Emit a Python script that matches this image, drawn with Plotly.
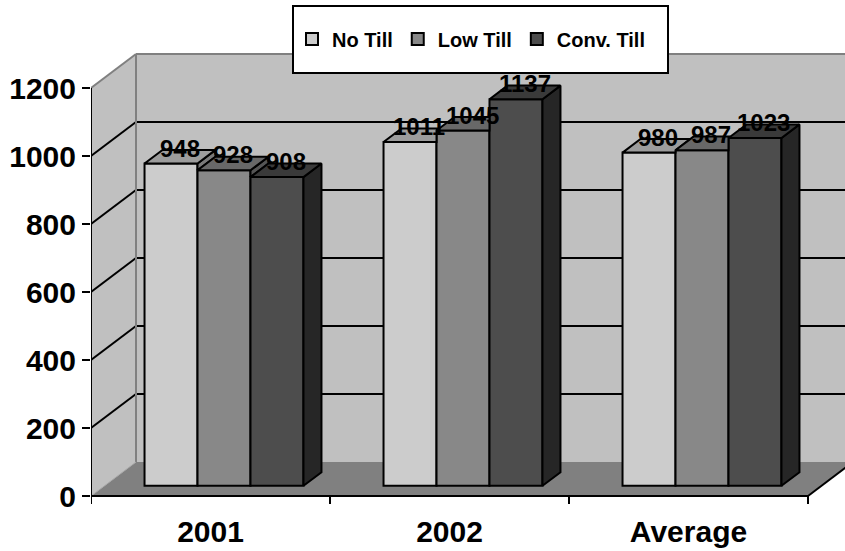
import plotly.graph_objects as go

# ---- data -------------------------------------------------------------
categories = ["2001", "2002", "Average"]
no_till = [948, 1011, 980]
low_till = [928, 1045, 987]
conv_till = [908, 1137, 1023]
series_names = ["No Till", "Low Till", "Conv. Till"]
y_ticks = [0, 200, 400, 600, 800, 1000, 1200]

# ---- styling ----------------------------------------------------------
front_colors = ["#cccccc", "#888888", "#4d4d4d"]
top_colors = ["#9c9c9c", "#686868", "#3a3a3a"]
side_colors = ["#7a7a7a", "#555555", "#262626"]
wall_color = "#c0c0c0"
floor_color = "#808080"
edge_gray = "#808080"
FONT = "Arial, 'Liberation Sans', sans-serif"

# ---- pseudo-3D geometry (oblique projection) --------------------------
W, H = 845, 551
M_L, M_R, M_T, M_B = 91, 0, 40, 45
PX_PER_CAT = 239.0          # one category slot on the front plane
PX_PER_VAL = 0.34           # pixels per value unit
plot_w = W - M_L - M_R
plot_h = H - M_T - M_B
x_range = [-0.5, -0.5 + plot_w / PX_PER_CAT]
y_bottom = -10 / PX_PER_VAL
y_range = [y_bottom, y_bottom + plot_h / PX_PER_VAL]

# full depth of the chart box, expressed in axis units
DEPTH_X = 45 / PX_PER_CAT
DEPTH_Y = 34 / PX_PER_VAL
# bars sit 30% into the box and are 40% of the box deep
BAR_OFF_X, BAR_OFF_Y = 0.3 * DEPTH_X, 0.3 * DEPTH_Y
BAR_DX, BAR_DY = 0.4 * DEPTH_X, 0.4 * DEPTH_Y

BARGAP = 0.335
n_series = 3
bar_w = (1 - BARGAP) / n_series
n_cat = len(categories)
x_left, x_right = -0.5, n_cat - 0.5

series = [no_till, low_till, conv_till]
xs = list(range(n_cat))

fig = go.Figure()

# front faces of the bars
for j in range(n_series):
    fig.add_trace(go.Bar(
        x=xs, y=series[j], name=series_names[j],
        marker=dict(color=front_colors[j], line=dict(color="black", width=2)),
        xaxis="x2", yaxis="y2", hoverinfo="skip",
    ))

# top and side faces, clipped where the neighbouring bar hides them
for gi in range(n_cat):
    vals = [series[j][gi] for j in range(n_series)]
    for j in range(n_series):
        v = vals[j]
        xl = gi - (1 - BARGAP) / 2 + j * bar_w
        xr = xl + bar_w
        nxt = vals[j + 1] if j < n_series - 1 else None

        h0 = 0 if nxt is None else nxt
        if h0 < v:
            fig.add_trace(go.Scatter(
                x=[xr, xr, xr + BAR_DX, xr + BAR_DX, xr],
                y=[h0, v, v + BAR_DY, h0 + BAR_DY, h0],
                fill="toself", fillcolor=side_colors[j], mode="lines",
                line=dict(color="black", width=2), xaxis="x2", yaxis="y2",
                showlegend=False, hoverinfo="skip",
            ))

        d = 0.0 if nxt is None else min(max(nxt - v, 0.0), BAR_DY)
        fig.add_trace(go.Scatter(
            x=[xl, xr, xr, xr + BAR_DX * (1 - d / BAR_DY), xl + BAR_DX, xl],
            y=[v, v, v + d, v + BAR_DY, v + BAR_DY, v],
            fill="toself", fillcolor=top_colors[j], mode="lines",
            line=dict(color="black", width=2), xaxis="x2", yaxis="y2",
            showlegend=False, hoverinfo="skip",
        ))

# value labels sitting on the bar tops
annotations = []
for gi in range(n_cat):
    for j in range(n_series):
        v = series[j][gi]
        xc = gi - (1 - BARGAP) / 2 + (j + 0.5) * bar_w
        annotations.append(dict(
            x=xc + BAR_DX / 2, y=v + BAR_DY / 2, xref="x2", yref="y2",
            text=str(v), showarrow=False, yanchor="bottom", yshift=-7,
            font=dict(family=FONT, size=24, color="black", weight="bold"),
        ))

# ---- walls, floor, gridlines and axis frame ---------------------------
shapes = []
bx0, by0 = x_left + DEPTH_X, DEPTH_Y
top_v = y_ticks[-1]


def seg(x0, y0, x1, y1, color="black", width=2, layer="below"):
    return dict(type="line", x0=x0, y0=y0, x1=x1, y1=y1, xref="x", yref="y",
                line=dict(color=color, width=width), layer=layer)


shapes.append(dict(type="rect", x0=bx0, y0=by0, x1=x_right + DEPTH_X,
                   y1=top_v + DEPTH_Y, xref="x", yref="y", fillcolor=wall_color,
                   line=dict(width=0), layer="below"))
shapes.append(dict(type="path", xref="x", yref="y", layer="below",
                   path=f"M{x_left},0 L{x_left},{top_v} L{bx0},{top_v + DEPTH_Y} L{bx0},{by0} Z",
                   fillcolor=wall_color, line=dict(width=0)))
shapes.append(dict(type="path", xref="x", yref="y", layer="below",
                   path=f"M{x_left},0 L{x_right},0 L{x_right + DEPTH_X},{DEPTH_Y} L{bx0},{DEPTH_Y} Z",
                   fillcolor=floor_color, line=dict(width=0)))
for v in y_ticks[1:-1]:
    shapes.append(seg(x_left, v, bx0, v + DEPTH_Y))
    shapes.append(seg(bx0, v + DEPTH_Y, x_right + DEPTH_X, v + DEPTH_Y))
shapes.append(seg(x_left, top_v, bx0, top_v + DEPTH_Y, edge_gray))
shapes.append(seg(bx0, top_v + DEPTH_Y, x_right + DEPTH_X, top_v + DEPTH_Y, edge_gray))
shapes.append(seg(bx0, DEPTH_Y, bx0, top_v + DEPTH_Y, edge_gray))
shapes.append(seg(x_left, 0, bx0, DEPTH_Y, "#a8a8a8", 1))
shapes.append(seg(x_right, 0, x_right + DEPTH_X, DEPTH_Y))
shapes.append(seg(x_left, 0, x_right, 0))
shapes.append(seg(x_left, 0, x_left, top_v))
tick_down = 8 / PX_PER_VAL
for k in range(n_cat + 1):
    xb = x_left + k
    shapes.append(seg(xb, 0, xb, -tick_down))

# legend frame
shapes.append(dict(type="rect", xref="paper", yref="paper",
                   x0=(293 - M_L) / plot_w, x1=(668 - M_L) / plot_w,
                   y0=(H - M_B - 73) / plot_h, y1=(H - M_B - 6) / plot_h,
                   fillcolor="white", line=dict(color="black", width=2),
                   layer="above"))

fig.update_layout(
    width=W, height=H,
    margin=dict(l=M_L, r=M_R, t=M_T, b=M_B),
    paper_bgcolor="white", plot_bgcolor="rgba(0,0,0,0)",
    barmode="group", bargap=BARGAP, bargroupgap=0,
    showlegend=True,
    legend=dict(orientation="h", x=(292 - M_L) / plot_w, xanchor="left",
                y=(H - M_B - 39) / plot_h, yanchor="middle",
                bgcolor="rgba(0,0,0,0)", borderwidth=0,
                font=dict(family=FONT, size=20, color="black", weight="bold"),
                itemwidth=30),
    xaxis=dict(range=x_range, tickvals=xs, ticktext=categories, ticks="",
               showgrid=False, zeroline=False, showline=False, fixedrange=True,
               tickfont=dict(family=FONT, size=30, color="black", weight="bold"),
               ticklabelstandoff=5),
    yaxis=dict(range=y_range, tickvals=y_ticks, ticks="outside", ticklen=8,
               tickwidth=2, tickcolor="black", showgrid=False, zeroline=False,
               showline=False, fixedrange=True,
               tickfont=dict(family=FONT, size=30, color="black", weight="bold")),
    xaxis2=dict(range=[x_range[0] - BAR_OFF_X, x_range[1] - BAR_OFF_X],
                overlaying="x", visible=False, fixedrange=True),
    yaxis2=dict(range=[y_range[0] - BAR_OFF_Y, y_range[1] - BAR_OFF_Y],
                overlaying="y", visible=False, fixedrange=True),
    shapes=shapes, annotations=annotations,
)

fig.write_html("out.html")
